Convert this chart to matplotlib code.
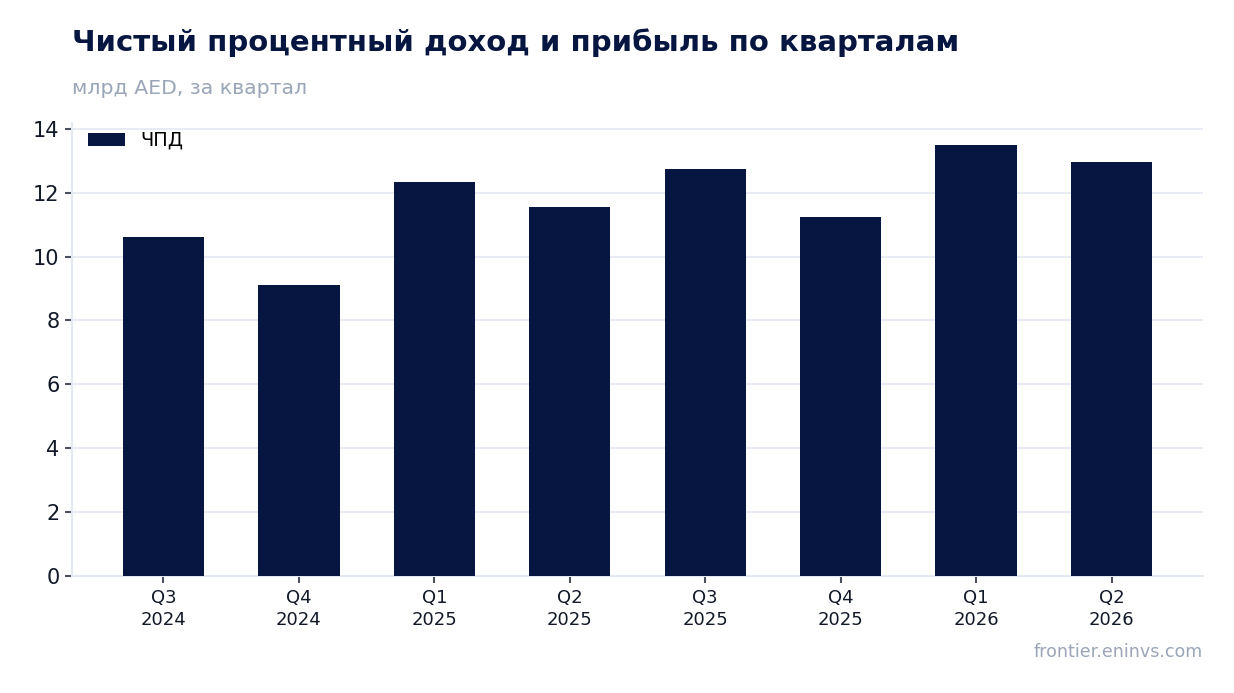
import matplotlib.pyplot as plt

plt.rcParams['font.family'] = ['DejaVu Sans']

quarters = ["Q3\n2024", "Q4\n2024", "Q1\n2025", "Q2\n2025",
            "Q3\n2025", "Q4\n2025", "Q1\n2026", "Q2\n2026"]
nii = [10.61, 9.11, 12.34, 11.56, 12.75, 11.24, 13.50, 12.97]

navy = "#061641"
grid_color = "#e4e8f1"

fig = plt.figure(figsize=(12.34, 6.93), dpi=100)
ax = fig.add_axes([72 / 1234, 1 - 575.5 / 693, (1203 - 72) / 1234, (575.5 - 123) / 693])

x = range(len(quarters))
ax.bar(x, nii, width=0.6, color=navy, label="ЧПД", zorder=3)

ax.set_xlim(-0.675, len(quarters) - 1 + 0.675)
ax.set_ylim(0, 14.19)
ax.set_yticks(range(0, 15, 2))
ax.set_xticks(list(x))
ax.set_xticklabels(quarters)

ax.grid(axis="y", color=grid_color, linewidth=1.2, zorder=0)
ax.set_axisbelow(True)
for side in ["top", "right"]:
    ax.spines[side].set_visible(False)
for side in ["left", "bottom"]:
    ax.spines[side].set_color(grid_color)
    ax.spines[side].set_linewidth(1.5)

ax.tick_params(axis="y", labelsize=15, colors="#4a4f5c", labelcolor="#111827",
               length=5, width=1.5, pad=4)
ax.tick_params(axis="x", labelsize=13, colors="#4a4f5c", labelcolor="#111827",
               length=5, width=1.5, pad=5)
for lbl in ax.get_xticklabels():
    lbl.set_linespacing(1.25)

leg = ax.legend(loc="upper left", frameon=False, fontsize=14, handlelength=1.9,
                handleheight=0.67, handletextpad=0.8, borderaxespad=0.15,
                bbox_to_anchor=(0.0045, 1.006))

fig.text(72 / 1234, 1 - 43 / 693, "Чистый процентный доход и прибыль по кварталам",
         fontsize=21, fontweight="bold", color="#061641", va="center", ha="left")
fig.text(72 / 1234, 1 - 88 / 693, "млрд AED, за квартал",
         fontsize=14.7, color="#9aa5b8", va="center", ha="left")
fig.text(1203 / 1234, 1 - 652 / 693, "frontier.eninvs.com",
         fontsize=12.6, color="#9aa5b8", va="center", ha="right")

fig.savefig("out.png", dpi=100)
